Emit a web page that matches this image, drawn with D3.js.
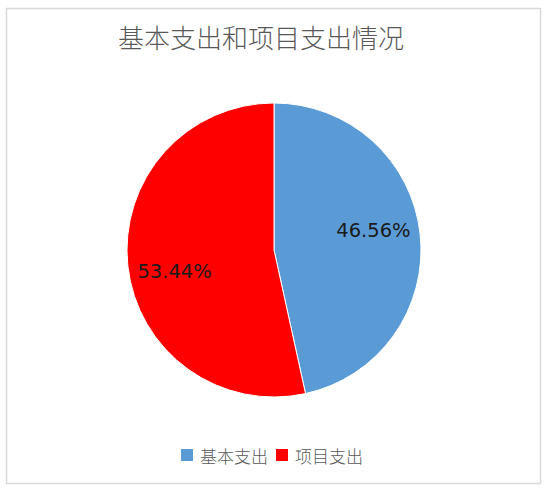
<!DOCTYPE html>
<html>
<head>
<meta charset="utf-8">
<script src="https://cdn.jsdelivr.net/npm/d3@7"></script>
<style>
  html, body { margin: 0; padding: 0; background: #fff; }
  svg { display: block; }
</style>
</head>
<body>
<div id="chart"></div>
<script>
// chart data
const categories = ["基本支出", "项目支出"];
const shares = [46.56, 53.44];
const colors = ["#5b9bd5", "#ff0000"];
const titleText = "基本支出和项目支出情况";

const width = 548, height = 491;
const cx = 274, cy = 250, radius = 147;

const svg = d3.select("#chart").append("svg")
    .attr("width", width)
    .attr("height", height);

// chart frame
svg.append("rect")
    .attr("x", 6.5).attr("y", 8.5)
    .attr("width", 534).attr("height", 475)
    .attr("fill", "#fff")
    .attr("stroke", "#d9d9d9")
    .attr("stroke-width", 1.5);

svg.append("text")
    .attr("x", 261).attr("y", 48)
    .attr("text-anchor", "middle")
    .attr("fill", "#595959")
    .style("font-family", "'Noto Sans CJK SC', sans-serif")
    .style("font-weight", 300)
    .style("font-size", "26px")
    .text(titleText);

const data = categories.map((c, i) => ({ name: c, value: shares[i], color: colors[i] }));

const pie = d3.pie().value(d => d.value).sort(null);
const arc = d3.arc().innerRadius(0).outerRadius(radius);
const labelArc = d3.arc().innerRadius(100).outerRadius(100);

const g = svg.append("g").attr("transform", `translate(${cx},${cy})`);
const arcs = pie(data);

g.selectAll("path")
    .data(arcs)
    .join("path")
    .attr("d", arc)
    .attr("fill", d => d.data.color)
    .attr("stroke", "#fff")
    .attr("stroke-width", 1);

// excel "best fit" nudges the labels a bit off the centroid
const labelNudge = [-9, 11];

g.selectAll(".lbl")
    .data(arcs)
    .join("text")
    .attr("class", "lbl")
    .attr("x", d => labelArc.centroid(d)[0])
    .attr("y", (d, i) => labelArc.centroid(d)[1] + labelNudge[i])
    .attr("text-anchor", "middle")
    .attr("dominant-baseline", "central")
    .attr("fill", "#1a1a1a")
    .style("font-family", "'DejaVu Sans', sans-serif")
    .style("font-size", "19.5px")
    .text(d => d.data.value.toFixed(2) + "%");

// legend
const legend = svg.append("g").attr("transform", "translate(181,455)");
let lx = 0;
data.forEach((d, i) => {
    const item = legend.append("g").attr("transform", `translate(${lx},0)`);
    item.append("rect")
        .attr("x", 0).attr("y", -6)
        .attr("width", 12).attr("height", 12)
        .attr("fill", d.color);
    const t = item.append("text")
        .attr("x", 19).attr("y", 0)
        .attr("dominant-baseline", "central")
        .attr("fill", "#595959")
        .style("font-family", "'Noto Sans CJK SC', sans-serif")
        .style("font-weight", 300)
        .style("font-size", "17px")
        .text(d.name);
    lx += 19 + t.node().getComputedTextLength() + 8;
});
</script>
</body>
</html>
